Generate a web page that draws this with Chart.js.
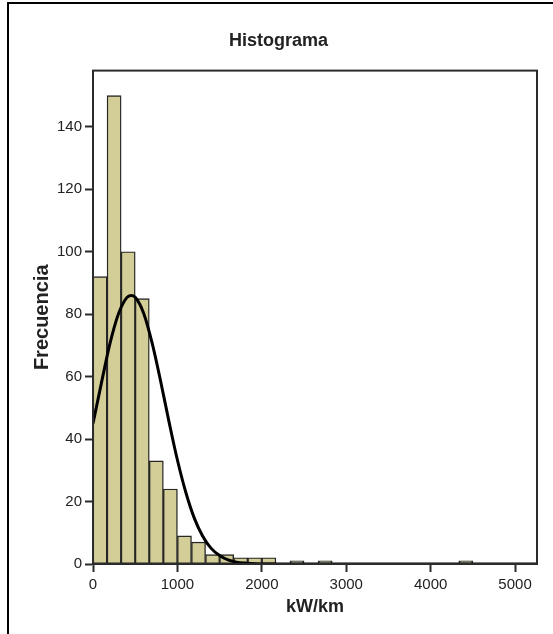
<!DOCTYPE html>
<html>
<head>
<meta charset="utf-8">
<script src="https://cdn.jsdelivr.net/npm/chart.js@4.4.1/dist/chart.umd.min.js"></script>
<style>
  html, body { margin: 0; padding: 0; background: #fff; }
  #histChart { display: block; }
</style>
</head>
<body>
<canvas id="histChart" width="553" height="634"></canvas>
<script>
// Frequency per bin of kW/km (bins of 166.67 starting at 0)
const binWidth = 1000 / 6;
const binCounts = [92, 150, 100, 85, 33, 24, 9, 7, 3, 3, 2, 2, 2, 0, 1, 0, 1,
                   0, 0, 0, 0, 0, 0, 0, 0, 0, 1];

// Fitted normal curve, sampled along the x axis
const curveX = [0, 100, 200, 300, 400, 450, 500, 600, 700, 800, 900, 1000, 1100,
                1200, 1300, 1400, 1500, 1600, 1700, 1800, 2000, 2400, 3000, 4000, 5260];
const curveY = [45, 58, 70.5, 80, 85.3, 86, 85.4, 80.3, 70.8, 58.7, 45.6, 33.3, 22.9,
                14.7, 8.9, 5, 2.7, 1.3, 0.6, 0.3, 0, 0, 0, 0, 0];

const xTicks = [0, 1000, 2000, 3000, 4000, 5000];
const yTicks = [0, 20, 40, 60, 80, 100, 120, 140];
const xMax = 5260;
const yMax = 158;

const axisColor = '#2b2b2b';
const textColor = '#222222';
const fontFamily = "'Liberation Sans', Arial, sans-serif";

const barData = [];
binCounts.forEach(function(count, i) {
    if (count > 0) barData.push({ x: (i + 0.5) * binWidth, y: count });
});
const curveData = curveX.map(function(x, i) { return { x: x, y: curveY[i] }; });

// White page, outer frame, and the box round the plot area
const framePlugin = {
    id: 'frame',
    beforeDraw: function(chart) {
        const ctx = chart.ctx;
        ctx.save();
        ctx.fillStyle = '#ffffff';
        ctx.fillRect(0, 0, chart.width, chart.height);
        ctx.strokeStyle = '#000000';
        ctx.lineWidth = 2;
        ctx.beginPath();
        ctx.moveTo(8, chart.height);
        ctx.lineTo(8, 3);
        ctx.lineTo(chart.width, 3);
        ctx.stroke();
        ctx.restore();
    },
    afterDraw: function(chart) {
        const a = chart.chartArea;
        const ctx = chart.ctx;
        ctx.save();
        ctx.strokeStyle = axisColor;
        ctx.lineWidth = 2;
        ctx.strokeRect(a.left, a.top, a.right - a.left, a.bottom - a.top);
        ctx.restore();
    }
};

new Chart(document.getElementById('histChart'), {
    type: 'bar',
    data: {
        datasets: [
            {
                type: 'line',
                label: 'Normal',
                data: curveData,
                borderColor: '#000000',
                borderWidth: 3,
                pointRadius: 0,
                cubicInterpolationMode: 'monotone',
                fill: false,
                order: 0
            },
            {
                type: 'bar',
                label: 'Frecuencia',
                data: barData,
                backgroundColor: '#d3ce97',
                borderColor: '#262626',
                borderWidth: 1.4,
                borderSkipped: false,
                barPercentage: 1,
                categoryPercentage: 1,
                order: 1
            }
        ]
    },
    options: {
        responsive: false,
        animation: false,
        devicePixelRatio: 1,
        layout: { padding: { left: 20, right: 16, top: 0, bottom: 0 } },
        plugins: {
            legend: { display: false },
            tooltip: { enabled: false },
            title: {
                display: true,
                text: 'Histograma',
                color: textColor,
                font: { family: fontFamily, size: 18, weight: 'bold' },
                padding: { top: 30, bottom: 19 }
            }
        },
        scales: {
            x: {
                type: 'linear',
                min: 0,
                max: xMax,
                offset: false,
                afterFit: function(scale) { scale.height = 70; },
                afterBuildTicks: function(scale) {
                    scale.ticks = xTicks.map(function(v) { return { value: v }; });
                },
                grid: { offset: false, drawOnChartArea: false, drawTicks: true, tickLength: 8, tickWidth: 2, tickColor: axisColor },
                border: { display: true, color: axisColor, width: 2 },
                ticks: {
                    color: textColor,
                    padding: 4,
                    maxRotation: 0,
                    font: { family: fontFamily, size: 15 },
                    callback: function(value) { return String(value); }
                },
                title: {
                    display: true,
                    text: 'kW/km',
                    color: textColor,
                    font: { family: fontFamily, size: 18, weight: 'bold' },
                    padding: { top: 0, bottom: 16 }
                }
            },
            y: {
                min: 0,
                max: yMax,
                afterFit: function(scale) { scale.width = 73; },
                afterBuildTicks: function(scale) {
                    scale.ticks = yTicks.map(function(v) { return { value: v }; });
                },
                grid: { drawOnChartArea: false, drawTicks: true, tickLength: 8, tickWidth: 2, tickColor: axisColor },
                border: { display: true, color: axisColor, width: 2 },
                ticks: {
                    color: textColor,
                    padding: 3,
                    font: { family: fontFamily, size: 15 },
                    callback: function(value) { return String(value); }
                },
                title: {
                    display: true,
                    text: 'Frecuencia',
                    color: textColor,
                    font: { family: fontFamily, size: 20, weight: 'bold' },
                    padding: { top: 10, bottom: 0 }
                }
            }
        }
    },
    plugins: [framePlugin]
});
</script>
</body>
</html>
